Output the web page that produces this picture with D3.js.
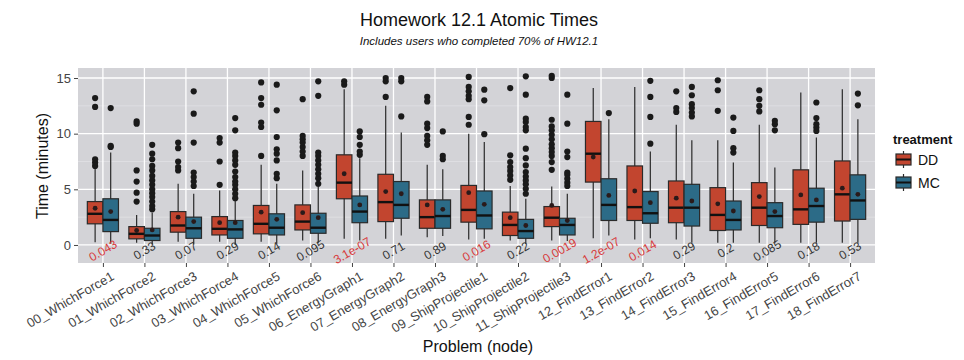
<!DOCTYPE html>
<meta charset="utf-8">
<style>
  body { margin: 0; background: #fff; }
  text { font-family: "Liberation Sans", Arial, sans-serif; }
</style>
<svg width="964" height="360"></svg>
<script src="https://d3js.org/d3.v7.min.js"></script>
<script>
var problems = ["00_WhichForce1", "01_WhichForce2", "02_WhichForce3", "03_WhichForce4",
  "04_WhichForce5", "05_WhichForce6", "06_EnergyGraph1", "07_EnergyGraph2", "08_EnergyGraph3",
  "09_ShipProjectile1", "10_ShipProjectile2", "11_ShipProjectile3", "12_FindError1",
  "13_FindError2", "14_FindError3", "15_FindError4", "16_FindError5", "17_FindError6",
  "18_FindError7"]

var treatments = ["DD", "MC"]

// box stats per problem: [lower whisker, q1, median, q3, upper whisker, mean]
var statsDD = [
  [0.25, 1.9, 2.8, 3.9, 6.9, 3.3],
  [0.2, 0.55, 1.0, 1.65, 2.7, 1.3],
  [0.3, 1.15, 1.75, 3.0, 5.5, 2.5],
  [0.3, 0.9, 1.45, 2.55, 4.9, 2.0],
  [0.3, 1.0, 1.9, 3.55, 7.2, 2.95],
  [0.4, 1.35, 2.1, 3.6, 6.7, 2.9],
  [0.55, 4.15, 5.6, 8.1, 14.0, 6.4],
  [0.55, 2.1, 3.85, 6.35, 12.5, 4.8],
  [0.7, 1.5, 2.5, 4.05, 7.2, 3.6],
  [0.5, 2.05, 3.15, 5.35, 10.0, 4.7],
  [0.4, 0.85, 1.8, 2.95, 5.3, 2.45],
  [0.4, 1.65, 2.45, 3.45, 5.25, 3.55],
  [0.6, 5.65, 8.2, 11.1, 14.1, 7.9],
  [0.5, 2.2, 3.4, 7.1, 14.2, 4.85],
  [0.5, 2.0, 3.35, 5.75, 10.8, 4.2],
  [0.2, 1.3, 2.7, 5.15, 9.4, 3.7],
  [0.2, 1.75, 3.35, 5.6, 10.8, 4.35],
  [0.2, 1.85, 3.2, 6.75, 13.7, 4.5],
  [0.2, 2.15, 4.55, 7.55, 14.0, 5.1]
]

var statsMC = [
  [0.1, 1.2, 2.25, 4.15, 8.3, 3.0],
  [0.05, 0.4, 0.85, 1.5, 2.9, 1.35],
  [0.05, 0.6, 1.5, 2.5, 4.6, 2.1],
  [0.0, 0.6, 1.4, 2.2, 4.0, 2.0],
  [0.1, 0.9, 1.55, 2.8, 5.5, 2.3],
  [0.2, 1.05, 1.55, 2.85, 5.4, 2.45],
  [0.4, 2.0, 3.0, 4.4, 7.8, 3.6],
  [0.85, 2.4, 3.6, 5.7, 10.1, 4.6],
  [0.8, 1.5, 2.6, 4.05, 6.8, 3.2],
  [0.55, 1.45, 2.65, 4.85, 9.25, 3.65],
  [0.1, 0.6, 1.25, 2.3, 4.15, 1.75],
  [0.35, 0.9, 1.8, 2.4, 4.6, 2.2],
  [0.85, 2.2, 3.6, 5.95, 11.3, 4.45],
  [0.6, 1.95, 2.85, 4.8, 8.4, 3.8],
  [0.2, 1.7, 3.35, 5.45, 9.4, 3.95],
  [0.2, 1.35, 2.25, 3.95, 7.4, 3.05],
  [0.2, 1.55, 2.6, 3.8, 6.95, 3.0],
  [0.2, 2.05, 3.5, 5.1, 9.65, 4.05],
  [0.2, 2.3, 4.0, 6.3, 11.3, 4.55]
]

var outliersDD = [
  [7.1, 7.4, 7.7, 12.4, 13.2],
  [3.9, 4.7, 5.7, 6.7, 10.9, 11.1],
  [6.7, 7.0, 7.5, 8.7, 9.2],
  [5.4, 7.5, 9.2, 9.6],
  [8.0, 10.6, 11.0, 12.6, 13.2, 14.6],
  [8.0, 8.4, 8.8, 9.2, 9.5, 9.8, 13.1],
  [14.4, 14.7],
  [13.3, 14.7, 15.0],
  [9.0, 9.4, 9.8, 10.5, 10.9, 12.9, 13.3],
  [10.8, 11.5, 13.1, 13.4, 13.8, 14.2, 15.1],
  [5.85, 6.25, 6.65, 7.0, 7.45, 8.05, 14.1],
  [6.75, 7.45, 8.0, 8.35, 8.7, 9.05, 9.5, 9.9, 10.3, 10.65, 11.25, 15.0, 15.2],
  [],
  [],
  [11.95, 12.3, 13.8],
  [12.05, 13.9, 14.8],
  [12.0, 12.5, 13.1, 13.9],
  [],
  []
]

var outliersMC = [
  [8.8, 8.9, 12.3],
  [3.2, 3.5, 3.9, 4.3, 4.65, 5.0, 5.4, 5.8, 6.2, 6.7, 7.1, 7.7, 8.2, 9.0],
  [5.3, 5.7, 6.1, 6.5, 9.2, 11.8, 13.8],
  [4.2, 4.6, 5.0, 5.4, 5.7, 6.1, 6.6, 7.2, 7.6, 8.0, 8.3, 10.3, 11.4],
  [6.0, 6.4, 7.6, 8.2, 8.6, 9.7, 12.1, 14.4],
  [5.5, 6.0, 6.4, 6.8, 7.2, 7.6, 8.0, 8.3, 13.4, 14.7],
  [8.1, 8.4, 9.0, 9.7, 10.2],
  [11.55, 14.7, 15.0],
  [7.7, 8.0, 10.2],
  [9.95, 13.0, 13.95],
  [4.6, 5.05, 5.45, 5.8, 6.15, 6.55, 7.15, 7.8, 8.65, 10.3, 10.6, 11.05, 11.35, 13.5, 15.15],
  [5.3, 5.6, 5.95, 6.3, 6.5, 7.9, 8.4, 10.9, 13.5],
  [11.85],
  [9.1, 11.5, 13.3, 14.75],
  [11.55, 11.9, 12.3, 12.65, 13.45, 14.2],
  [8.3, 8.7, 10.25, 11.45],
  [10.3, 10.85, 11.15],
  [10.25, 10.55, 10.85, 11.4, 12.8],
  [12.55, 13.6]
]

var pValues = ["0.043", "0.33", "0.07", "0.29", "0.14", "0.095", "3.1e-07", "0.71", "0.89",
  "0.016", "0.22", "0.0019", "1.2e-07", "0.014", "0.29", "0.2", "0.085", "0.18", "0.53"]

var yTicks = [0, 5, 10, 15]
var yMinor = [2.5, 7.5, 12.5]

var colors = { DD: "#c2452f", MC: "#2c6b87" }

var svg = d3.select("svg")
var panelLeft = 78, panelRight = 875, panelTop = 68, panelBottom = 263

var x = d3.scalePoint().domain(problems).range([panelLeft, panelRight]).padding(0.6)
var y = d3.scaleLinear().domain([-1.62, 15.9]).range([panelBottom, panelTop])
var step = x.step()
var dodge = d3.scaleBand().domain(treatments).range([-0.375 * step, 0.375 * step])

// titles
svg.append("text").attr("x", 479).attr("y", 26).attr("text-anchor", "middle")
  .attr("font-size", 18).attr("fill", "#111").text("Homework 12.1 Atomic Times")
svg.append("text").attr("x", 479).attr("y", 45).attr("text-anchor", "middle")
  .attr("font-size", 11.5).attr("font-style", "italic").attr("fill", "#111")
  .text("Includes users who completed 70% of HW12.1")

// panel
svg.append("rect").attr("x", panelLeft).attr("y", panelTop).attr("width", panelRight - panelLeft)
  .attr("height", panelBottom - panelTop).attr("fill", "#d3d3d7")

var grid = svg.append("g")
grid.selectAll(".minor").data(yMinor).enter().append("line")
  .attr("x1", panelLeft).attr("x2", panelRight)
  .attr("y1", function (d) { return y(d) }).attr("y2", function (d) { return y(d) })
  .attr("stroke", "#e6e6ea").attr("stroke-width", 0.6)
grid.selectAll(".major").data(yTicks).enter().append("line")
  .attr("x1", panelLeft).attr("x2", panelRight)
  .attr("y1", function (d) { return y(d) }).attr("y2", function (d) { return y(d) })
  .attr("stroke", "#fff").attr("stroke-width", 1.3)
grid.selectAll(".vert").data(problems).enter().append("line")
  .attr("x1", function (d) { return x(d) }).attr("x2", function (d) { return x(d) })
  .attr("y1", panelTop).attr("y2", panelBottom)
  .attr("stroke", "#fff").attr("stroke-width", 1.3)

// axes
var yAxis = svg.append("g").attr("transform", "translate(" + panelLeft + ",0)")
  .call(d3.axisLeft(y).tickValues(yTicks).tickSize(4).tickPadding(3))
yAxis.select(".domain").remove()
yAxis.selectAll("line").attr("stroke", "#444")
yAxis.selectAll("text").attr("font-size", 13).attr("fill", "#444")
  .style("font-family", "Liberation Sans, Arial, sans-serif")

var xAxis = svg.append("g").attr("transform", "translate(0," + panelBottom + ")")
  .call(d3.axisBottom(x).tickSize(4).tickPadding(4))
xAxis.select(".domain").remove()
xAxis.selectAll("line").attr("stroke", "#444")
xAxis.selectAll("text").attr("font-size", 13).attr("fill", "#444")
  .style("font-family", "Liberation Sans, Arial, sans-serif")
  .attr("text-anchor", "end")
  .attr("transform", "translate(3,1) rotate(-30)")

svg.append("text").attr("x", 478).attr("y", 352).attr("text-anchor", "middle")
  .attr("font-size", 16).attr("fill", "#111").text("Problem (node)")
svg.append("text").attr("transform", "translate(48,166) rotate(-90)")
  .attr("text-anchor", "middle").attr("font-size", 16).attr("fill", "#111")
  .text("Time (minutes)")

// boxes
var boxData = []
problems.forEach(function (p, i) {
  boxData.push({ problem: p, t: "DD", s: statsDD[i], out: outliersDD[i] })
  boxData.push({ problem: p, t: "MC", s: statsMC[i], out: outliersMC[i] })
})

var bw = dodge.bandwidth()
var boxes = svg.append("g").selectAll("g").data(boxData).enter().append("g")
  .attr("transform", function (d) { return "translate(" + (x(d.problem) + dodge(d.t)) + ",0)" })

boxes.append("line")
  .attr("x1", bw / 2).attr("x2", bw / 2)
  .attr("y1", function (d) { return y(d.s[0]) }).attr("y2", function (d) { return y(d.s[4]) })
  .attr("stroke", "#2a2a2a").attr("stroke-width", 1.2)
boxes.append("rect")
  .attr("x", 0).attr("width", bw)
  .attr("y", function (d) { return y(d.s[3]) })
  .attr("height", function (d) { return y(d.s[1]) - y(d.s[3]) })
  .attr("fill", function (d) { return colors[d.t] })
  .attr("stroke", "#2a2a2a").attr("stroke-width", 1.2)
boxes.append("line")
  .attr("x1", 0).attr("x2", bw)
  .attr("y1", function (d) { return y(d.s[2]) }).attr("y2", function (d) { return y(d.s[2]) })
  .attr("stroke", "#111").attr("stroke-width", 2.4)
boxes.selectAll(".out").data(function (d) { return d.out }).enter().append("circle")
  .attr("cx", bw / 2).attr("cy", function (v) { return y(v) }).attr("r", 3.1)
  .attr("fill", "#1a1a1a")
boxes.append("circle")
  .attr("cx", bw / 2).attr("cy", function (d) { return y(d.s[5]) }).attr("r", 2.4)
  .attr("fill", "#2a1a1a")

// p-values
svg.append("g").selectAll("text").data(problems).enter().append("text")
  .attr("transform", function (d) { return "translate(" + x(d) + "," + y(-0.5) + ") rotate(-30)" })
  .attr("text-anchor", "middle").attr("dy", "0.35em").attr("font-size", 12)
  .attr("fill", function (d, i) { return +pValues[i] < 0.05 ? "#d8393a" : "#333" })
  .text(function (d, i) { return pValues[i] })

// legend
var legend = svg.append("g").attr("transform", "translate(893,0)")
legend.append("text").attr("x", 0).attr("y", 144).attr("font-size", 13)
  .attr("font-weight", "bold").attr("fill", "#111").text("treatment")
var keys = legend.selectAll(".key").data(treatments).enter().append("g")
  .attr("transform", function (d, i) { return "translate(2," + (151 + i * 23) + ")" })
keys.append("line").attr("x1", 8.5).attr("x2", 8.5).attr("y1", 0).attr("y2", 17)
  .attr("stroke", "#2a2a2a").attr("stroke-width", 1.2)
keys.append("rect").attr("x", 1).attr("y", 3).attr("width", 15).attr("height", 11)
  .attr("fill", function (d) { return colors[d] }).attr("stroke", "#2a2a2a").attr("stroke-width", 1.2)
keys.append("line").attr("x1", 1).attr("x2", 16).attr("y1", 8.5).attr("y2", 8.5)
  .attr("stroke", "#111").attr("stroke-width", 2)
keys.append("text").attr("x", 23).attr("y", 13.5).attr("font-size", 14).attr("fill", "#111")
  .text(function (d) { return d })
</script>
